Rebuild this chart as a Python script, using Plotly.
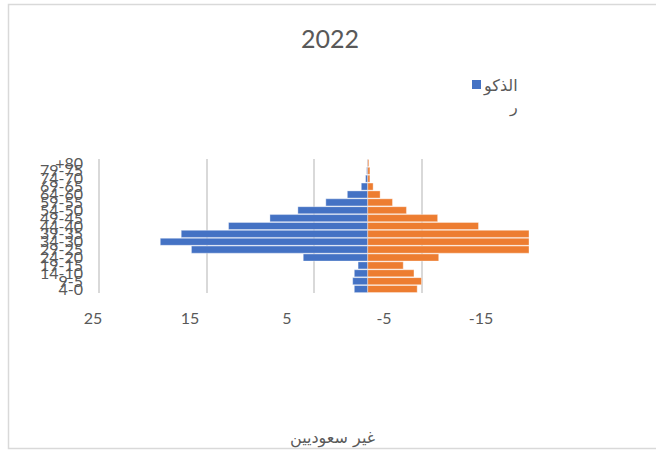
import plotly.graph_objects as go

title_text = "2022"
age_groups = ["4-0", "9-5", "14-10", "19-15", "24-20", "29-25", "34-30", "39-35",
              "44-40", "49-45", "54-50", "59-55", "64-60", "69-65", "74-70", "79-75", "+80"]
males = [1.25, 1.4, 1.25, 0.9, 6.0, 16.4, 19.3, 17.35, 12.95, 9.1, 6.5, 3.9, 1.9, 0.6, 0.2, 0.1, 0.05]
females = [-4.6, -5.0, -4.3, -3.3, -6.6, -15.0, -15.0, -15.0, -10.3, -6.5, -3.6, -2.3, -1.15, -0.5, -0.2, -0.2, -0.1]
male_name = "الذكور"
female_name = "الإناث"
legend_label = "الذكو<br>ر"
x_title = "غير سعوديين"
x_tickvals = [25, 15, 5, -5, -15]
x_ticktext = ["25", "15", "5", "-5", "-15"]

BLUE = "#4472C4"
ORANGE = "#ED7D31"
GRAY = "#595959"
GRID = "#D9D9D9"
FONT = "Lato, 'DejaVu Sans', sans-serif"

fig = go.Figure()
fig.add_trace(go.Bar(y=age_groups, x=males, orientation="h", name=male_name,
                     marker=dict(color=BLUE, line=dict(color="rgba(255,255,255,0.6)", width=0.6)),
                     showlegend=False))
fig.add_trace(go.Bar(y=age_groups, x=females, orientation="h", name=female_name,
                     marker=dict(color=ORANGE, line=dict(color="rgba(255,255,255,0.6)", width=0.6)),
                     showlegend=False))
# empty trace so the label axis is drawn
fig.add_trace(go.Scatter(x=[], y=[], xaxis="x2", yaxis="y", showlegend=False, hoverinfo="skip"))

L, R, T, B = 85, 127, 159, 157
W, H = 656, 450
pw, ph = W - L - R, H - T - B
GRID_LEFT = 99  # pixel where the value-25 gridline sits

def px(x):
    return (x - L) / pw

def py(y):
    return (H - B - y) / ph

# bar axis: 25 at x=99, -15 at the right edge
bar_scale = (W - R - GRID_LEFT) / 40.0
bar_left = 25 + (GRID_LEFT - L) / bar_scale
# label axis: tick labels in the reference sit at x=93..481 (9.7 px per unit)
lab_scale = 9.7
lab_left = 25 - (L - 93) / lab_scale
lab_right = -15 - (W - R - 481) / lab_scale

fig.update_layout(
    width=W, height=H,
    margin=dict(l=L, r=R, t=T, b=B),
    paper_bgcolor="white", plot_bgcolor="white",
    barmode="relative", bargap=0.1,
    font=dict(family=FONT, color=GRAY, size=16),
    title=dict(text=title_text, x=330 / W, xref="container", xanchor="center",
               y=1 - 39 / H, yref="container", yanchor="middle",
               font=dict(size=25, color=GRAY, family=FONT)),
    xaxis=dict(range=[bar_left, -15], tickvals=x_tickvals, ticktext=x_ticktext,
               showgrid=True, gridcolor=GRID, gridwidth=1.5, zeroline=False,
               showline=False, ticks="", showticklabels=False),
    xaxis2=dict(range=[lab_left, lab_right], overlaying="x", anchor="y", side="bottom",
                tickvals=x_tickvals, ticktext=x_ticktext,
                showgrid=False, zeroline=False, showline=False, ticks="",
                ticklabelstandoff=14, tickfont=dict(size=16, color=GRAY)),
    yaxis=dict(type="category", tickmode="array", tickvals=age_groups,
               showgrid=False, zeroline=False, showline=False, ticks="",
               ticklabelstandoff=1, tickfont=dict(size=16, color=GRAY)),
    showlegend=False,
)

# legend box (manual)
fig.add_shape(type="rect", xref="paper", yref="paper",
              x0=px(472), x1=px(481), y0=py(89), y1=py(80),
              fillcolor=BLUE, line=dict(width=0))
fig.add_annotation(text=legend_label, xref="paper", yref="paper",
                   x=px(520), y=py(74), xanchor="right", yanchor="top",
                   align="right", showarrow=False,
                   font=dict(size=16, color=GRAY, family="'DejaVu Sans', sans-serif"))
# x axis title
fig.add_annotation(text=x_title, xref="paper", yref="paper",
                   x=px(332), y=py(438), xanchor="center", yanchor="middle",
                   showarrow=False,
                   font=dict(size=16, color=GRAY, family="'DejaVu Sans', sans-serif"))
# chart border
fig.add_shape(type="rect", xref="paper", yref="paper",
              x0=px(8.5), x1=px(720), y0=py(448.5), y1=py(4.5),
              line=dict(color=GRID, width=1.5), fillcolor="rgba(0,0,0,0)", layer="below")

fig.write_html("out.html", config={"displayModeBar": False},
               post_script="document.body.style.margin='0';")
